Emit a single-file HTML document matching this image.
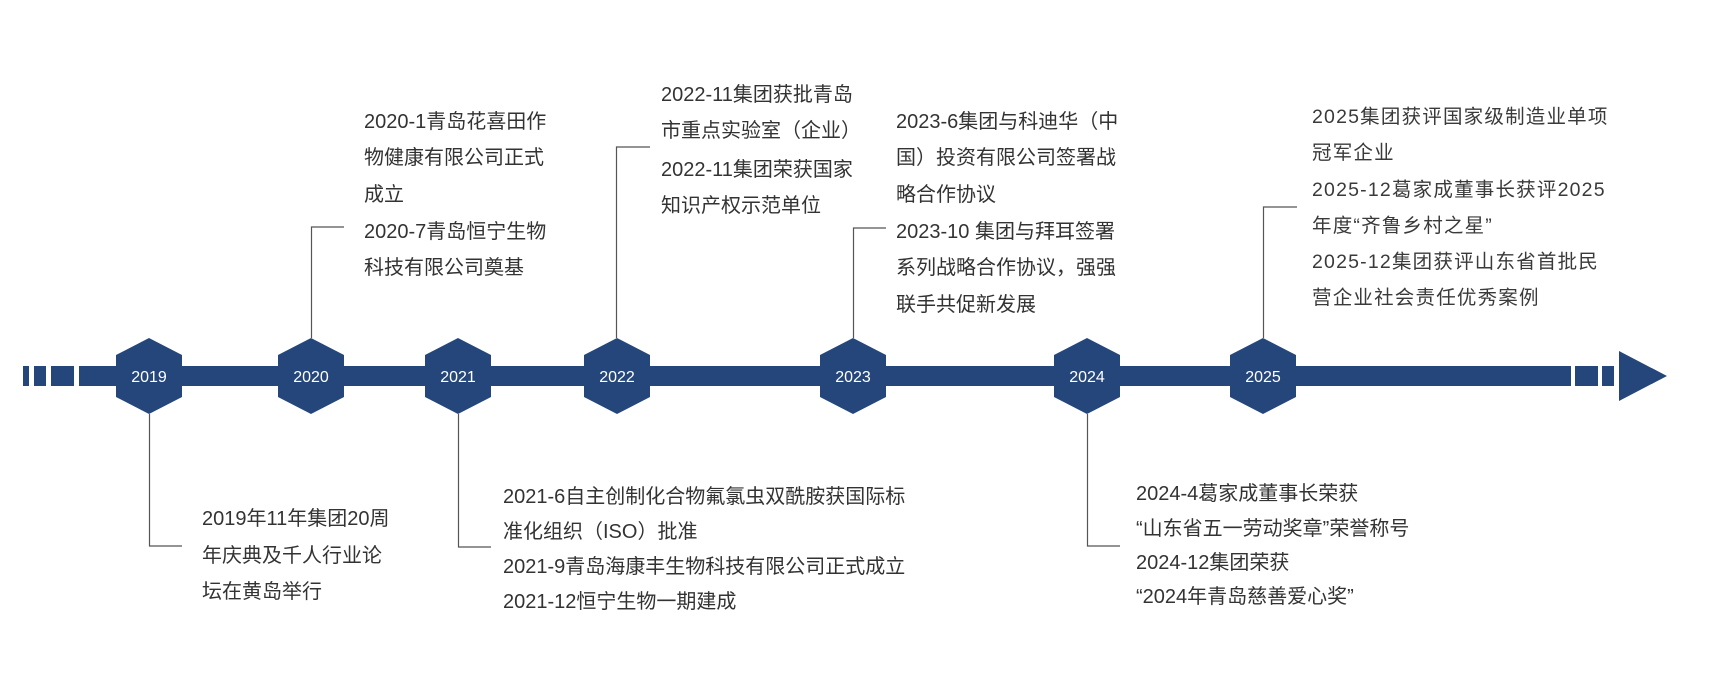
<!DOCTYPE html>
<html><head><meta charset="utf-8">
<style>
html,body{margin:0;padding:0;background:#fff;}
#c{position:relative;width:1711px;height:675px;overflow:hidden;font-family:"Liberation Sans","Noto Sans CJK SC",sans-serif;}
.t{position:absolute;white-space:nowrap;font-size:20px;line-height:36px;height:36px;color:#333;}
.s{letter-spacing:1.2px;color:#3a3a3a;font-size:19.5px;}
svg{position:absolute;left:0;top:0;}
</style></head><body><div id="c">
<svg width="1711" height="675">
<g fill="#24467a">
<rect x="23" y="366" width="6" height="20"/>
<rect x="34" y="366" width="12" height="20"/>
<rect x="51" y="366" width="23" height="20"/>
<rect x="79" y="366" width="1492" height="20"/>
<rect x="1575" y="366" width="23" height="20"/>
<rect x="1602" y="366" width="12" height="20"/>
<polygon points="1619,351 1667,376 1619,401"/>
<polygon points="149,338 182,355 182,397 149,414 116,397 116,355"/>
<polygon points="311,338 344,355 344,397 311,414 278,397 278,355"/>
<polygon points="458,338 491,355 491,397 458,414 425,397 425,355"/>
<polygon points="617,338 650,355 650,397 617,414 584,397 584,355"/>
<polygon points="853,338 886,355 886,397 853,414 820,397 820,355"/>
<polygon points="1087,338 1120,355 1120,397 1087,414 1054,397 1054,355"/>
<polygon points="1263,338 1296,355 1296,397 1263,414 1230,397 1230,355"/>
</g>
<g fill="#fff" font-size="16" text-anchor="middle" font-family="Liberation Sans, sans-serif">
<text x="149" y="382">2019</text><text x="311" y="382">2020</text><text x="458" y="382">2021</text>
<text x="617" y="382">2022</text><text x="853" y="382">2023</text><text x="1087" y="382">2024</text>
<text x="1263" y="382">2025</text>
</g>
<g stroke="#555" stroke-width="1.2" fill="none">
<polyline points="344,227 311.5,227 311.5,338"/>
<polyline points="650,147 616.5,147 616.5,338"/>
<polyline points="886,228 853.5,228 853.5,338"/>
<polyline points="1297,207 1263.5,207 1263.5,338"/>
<polyline points="149.5,414 149.5,546 182,546"/>
<polyline points="458.5,414 458.5,547 491,547"/>
<polyline points="1087.5,414 1087.5,546 1120,546"/>
</g>
</svg>

<div class="t" style="left:364px;top:104px">2020-1青岛花喜田作</div>
<div class="t" style="left:364px;top:140px">物健康有限公司正式</div>
<div class="t" style="left:364px;top:177px">成立</div>
<div class="t" style="left:364px;top:214px">2020-7青岛恒宁生物</div>
<div class="t" style="left:364px;top:250px">科技有限公司奠基</div>

<div class="t" style="left:661px;top:77px">2022-11集团获批青岛</div>
<div class="t" style="left:661px;top:113px">市重点实验室（企业）</div>
<div class="t" style="left:661px;top:152px">2022-11集团荣获国家</div>
<div class="t" style="left:661px;top:188px">知识产权示范单位</div>

<div class="t" style="left:896px;top:104px">2023-6集团与科迪华（中</div>
<div class="t" style="left:896px;top:140px">国）投资有限公司签署战</div>
<div class="t" style="left:896px;top:177px">略合作协议</div>
<div class="t" style="left:896px;top:214px">2023-10 集团与拜耳签署</div>
<div class="t" style="left:896px;top:250px">系列战略合作协议，强强</div>
<div class="t" style="left:896px;top:287px">联手共促新发展</div>

<div class="t s" style="left:1312px;top:99px">2025集团获评国家级制造业单项</div>
<div class="t s" style="left:1312px;top:135px">冠军企业</div>
<div class="t s" style="left:1312px;top:172px">2025-12葛家成董事长获评2025</div>
<div class="t s" style="left:1312px;top:208px">年度“齐鲁乡村之星”</div>
<div class="t s" style="left:1312px;top:244px">2025-12集团获评山东省首批民</div>
<div class="t s" style="left:1312px;top:280px">营企业社会责任优秀案例</div>

<div class="t" style="left:202px;top:501px">2019年11年集团20周</div>
<div class="t" style="left:202px;top:538px">年庆典及千人行业论</div>
<div class="t" style="left:202px;top:574px">坛在黄岛举行</div>

<div class="t" style="left:503px;top:479px">2021-6自主创制化合物氟氯虫双酰胺获国际标</div>
<div class="t" style="left:503px;top:514px">准化组织（ISO）批准</div>
<div class="t" style="left:503px;top:549px">2021-9青岛海康丰生物科技有限公司正式成立</div>
<div class="t" style="left:503px;top:584px">2021-12恒宁生物一期建成</div>

<div class="t" style="left:1136px;top:476px">2024-4葛家成董事长荣获</div>
<div class="t" style="left:1136px;top:511px">“山东省五一劳动奖章”荣誉称号</div>
<div class="t" style="left:1136px;top:545px">2024-12集团荣获</div>
<div class="t" style="left:1136px;top:579px">“2024年青岛慈善爱心奖”</div>
</div></body></html>
